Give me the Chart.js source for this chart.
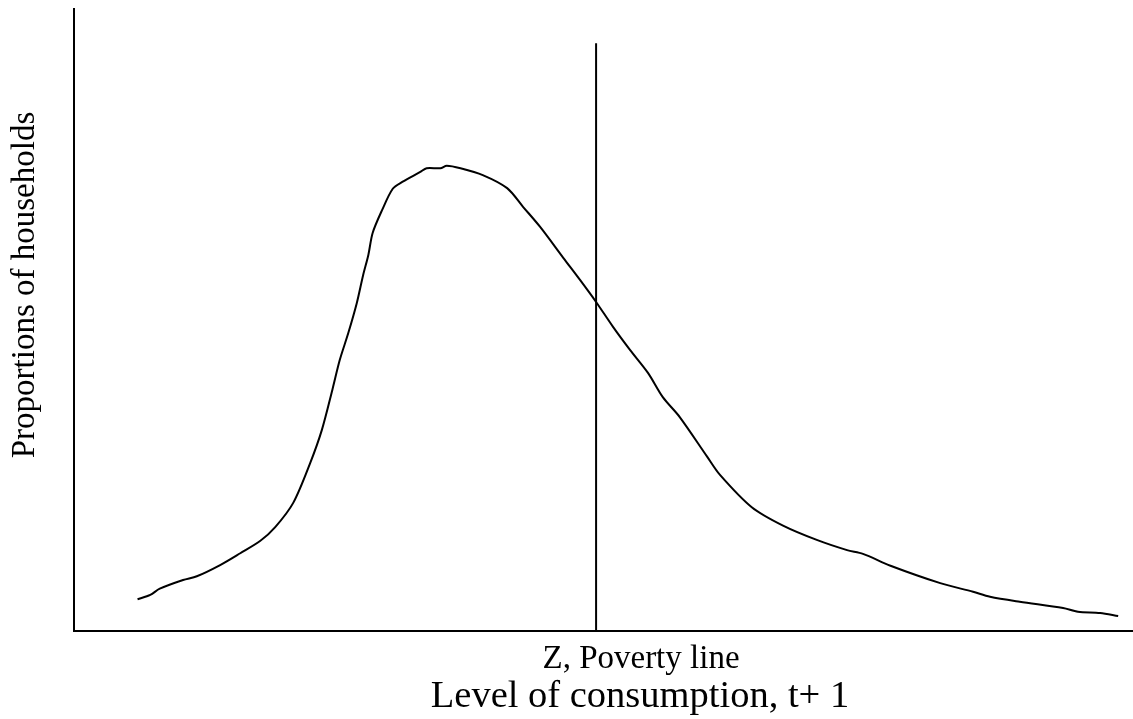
<!DOCTYPE html>
<html>
<head>
<meta charset="utf-8">
<style>
  html, body { margin: 0; padding: 0; background: #fff; overflow: hidden; }
  canvas { display: block; }
</style>
<script src="https://cdn.jsdelivr.net/npm/chart.js@4/dist/chart.umd.min.js"></script>
</head>
<body>
<canvas id="grafico" width="1133" height="719"></canvas>
<script>
// consumo (unidades relativas 0-100) y proporción de hogares (0-100)
const consumo = [6.0, 7.2, 8.1, 10.3, 11.6, 13.8, 15.7, 17.6, 19.0, 20.7, 22.3, 23.4, 24.4, 25.1, 25.9,
  26.7, 27.3, 27.8, 28.2, 29.1, 30.1, 31.0, 32.7, 33.3, 34.6, 35.2, 36.5, 38.6, 40.9, 42.4, 44.0,
  46.2, 47.8, 49.3, 50.9, 52.5, 54.2, 55.6, 57.2, 59.8, 61.0, 64.0, 67.0, 70.2, 73.0, 74.5, 77.1,
  81.8, 84.9, 86.5, 89.3, 93.4, 94.8, 96.9, 98.6];
const hogares = [5.1, 5.8, 6.8, 8.2, 8.8, 10.6, 12.5, 14.5, 16.7, 20.6, 27.0, 32.3, 38.8, 43.6, 47.9,
  52.7, 57.2, 60.5, 64.0, 67.7, 71.1, 72.2, 73.8, 74.4, 74.4, 74.8, 74.4, 73.3, 71.2, 68.2, 65.0,
  60.0, 56.4, 52.9, 48.9, 45.2, 41.5, 37.6, 34.4, 28.0, 25.1, 19.9, 16.9, 14.6, 13.0, 12.4, 10.5,
  7.7, 6.3, 5.5, 4.7, 3.7, 3.1, 2.9, 2.4];
const lineaPobreza = 49.3;
const topeLinea = 94.5;

const tituloX = ['Z, Poverty line', 'Level of consumption, t+ 1'];
const tituloY = 'Proportions of households';

const curva = consumo.map((x, i) => ({ x: x, y: hogares[i] }));
const pobreza = [{ x: lineaPobreza, y: 0 }, { x: lineaPobreza, y: topeLinea }];

const titulos = {
  id: 'titulos',
  afterDraw(chart) {
    const ctx = chart.ctx;
    ctx.save();
    ctx.fillStyle = '#000';
    ctx.textAlign = 'center';
    ctx.textBaseline = 'alphabetic';
    ctx.font = '33px "Liberation Serif", "Times New Roman", serif';
    ctx.fillText(tituloX[0], 641, 668);
    ctx.font = '38.5px "Liberation Serif", "Times New Roman", serif';
    ctx.fillText(tituloX[1], 640, 707);
    ctx.font = '33px "Liberation Serif", "Times New Roman", serif';
    ctx.translate(34, 285);
    ctx.rotate(-Math.PI / 2);
    ctx.fillText(tituloY, 0, 0);
    ctx.restore();
  }
};

new Chart(document.getElementById('grafico'), {
  type: 'line',
  data: {
    datasets: [{
      data: curva,
      borderColor: '#000',
      borderWidth: 2,
      pointRadius: 0,
      tension: 0.3,
      fill: false
    }, {
      data: pobreza,
      borderColor: '#000',
      borderWidth: 2,
      pointRadius: 0,
      tension: 0,
      fill: false
    }]
  },
  options: {
    responsive: false,
    animation: false,
    layout: { padding: { left: 74, top: 9, right: 0, bottom: 88 } },
    plugins: {
      legend: { display: false },
      tooltip: { enabled: false }
    },
    scales: {
      x: {
        type: 'linear',
        min: 0,
        max: 100,
        grid: { display: false, drawTicks: false },
        ticks: { display: false },
        border: { display: true, color: '#000', width: 2 }
      },
      y: {
        type: 'linear',
        min: 0,
        max: 100,
        grid: { display: false, drawTicks: false },
        ticks: { display: false },
        border: { display: true, color: '#000', width: 2 }
      }
    }
  },
  plugins: [titulos]
});
</script>
</body>
</html>
